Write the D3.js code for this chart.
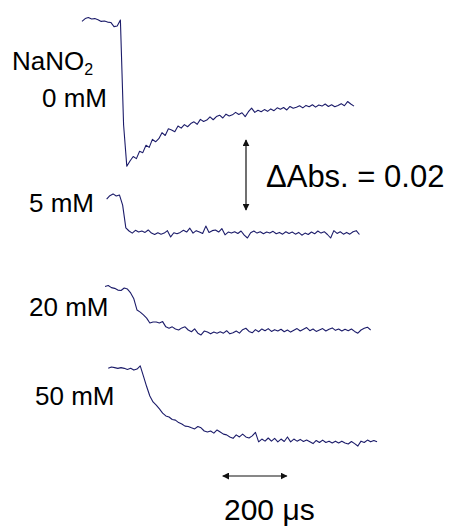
<!DOCTYPE html>
<html>
<head>
<meta charset="utf-8">
<script src="https://cdn.jsdelivr.net/npm/d3@7/dist/d3.min.js"></script>
<style>
  html, body { margin: 0; padding: 0; background: #ffffff; }
  svg text { font-family: "Liberation Sans", Arial, Helvetica, sans-serif; fill: #000; }
</style>
</head>
<body>
<svg id="chart" width="452" height="527"></svg>
<script>
// Transient absorbance traces (ΔAbs in mAbs, sampled every 10 µs)
const concentrations = ["0 mM", "5 mM", "20 mM", "50 mM"];
const sampleStep = 10;               // µs between samples
const traceStart = [0, 77, 72, 82];  // µs, first sample of each trace

const trace0mM = [
  -0.4, 0.4, 0.7, 0.3, 0.4, 0.1, -0.4, -0.3, -0.6, -0.7, -1.9, -1.7, 0.0, -30.0,
  -41.8, -40.3, -39.0, -39.6, -37.5, -37.9, -35.8, -36.4, -34.1, -34.8, -33.9, -32.2,
  -33.0, -31.1, -31.4, -31.9, -30.3, -30.9, -29.9, -30.5, -29.6, -29.1, -29.8, -28.4,
  -29.0, -28.6, -27.7, -28.5, -27.6, -27.2, -28.0, -26.9, -27.4, -27.1, -26.4, -27.0,
  -26.5, -27.6, -26.2, -25.2, -26.4, -25.8, -26.2, -25.6, -26.1, -25.4, -25.9, -25.1,
  -25.5, -25.0, -25.7, -24.7, -25.2, -24.9, -24.5, -25.1, -24.4, -24.8, -24.2, -24.9,
  -24.3, -24.6, -24.0, -24.7, -24.2, -24.8, -24.4, -23.9, -24.5, -23.3, -24.0, -24.6
];
const trace5mM = [
  -0.9, 0.1, 0.6, 0.0, 0.3, -2.6, -9.1, -10.0, -10.6, -9.8, -10.3, -10.0, -10.4, -9.7,
  -10.6, -11.0, -10.5, -10.9, -10.6, -9.9, -11.7, -10.5, -10.8, -10.4, -9.8, -10.3,
  -9.2, -10.6, -9.9, -10.3, -10.7, -8.6, -10.4, -9.9, -9.7, -10.3, -9.3, -11.1, -10.3,
  -10.6, -10.2, -10.7, -10.0, -11.2, -12.0, -10.5, -10.0, -10.6, -10.2, -10.8, -10.3,
  -10.6, -10.1, -10.8, -10.4, -10.9, -10.2, -10.7, -10.3, -10.9, -10.4, -11.2, -10.6,
  -11.0, -10.3, -10.8, -10.0, -10.6, -10.2, -11.0, -12.0, -9.9, -10.7, -10.2, -10.9,
  -10.4, -10.9, -10.2, -9.9, -11.0
];
const trace20mM = [
  0.4, 0.7, 0.1, -0.1, -0.6, -0.7, 0.0, -0.3, -1.4, -3.1, -6.3, -6.9, -7.7, -8.6,
  -10.0, -9.7, -9.7, -10.0, -9.6, -11.1, -11.5, -11.1, -11.7, -12.0, -11.4, -11.1,
  -12.0, -12.5, -11.7, -12.9, -13.4, -12.3, -12.6, -13.1, -12.6, -12.9, -12.5, -12.9,
  -12.2, -13.1, -12.8, -12.3, -12.9, -11.9, -11.5, -12.4, -12.8, -11.9, -12.5, -11.7,
  -12.2, -11.6, -12.4, -11.9, -12.3, -11.8, -12.5, -12.0, -12.6, -12.1, -11.6, -12.3,
  -11.8, -11.3, -12.2, -11.7, -12.4, -12.0, -11.6, -12.3, -11.8, -11.4, -12.1, -11.7,
  -12.3, -11.8, -12.2, -11.7, -12.4, -12.9, -12.0, -11.5, -11.2, -12.0
];
const trace50mM = [
  -0.1, 0.3, 0.1, -0.1, 0.1, -0.1, -0.4, -0.1, -0.6, -0.3, 0.6, -2.3, -5.3, -8.0,
  -9.7, -10.6, -11.7, -12.9, -13.7, -14.0, -14.7, -14.9, -15.6, -16.0, -16.6, -16.7,
  -17.1, -17.4, -16.7, -17.1, -18.0, -18.3, -18.0, -18.6, -17.7, -18.3, -18.9, -19.1,
  -19.7, -20.1, -19.1, -19.7, -18.9, -19.7, -20.0, -19.4, -18.4, -21.1, -20.3, -20.9,
  -20.0, -20.9, -20.1, -21.1, -20.3, -21.0, -19.7, -21.1, -20.3, -20.9, -20.4, -21.0,
  -20.6, -21.1, -21.6, -20.7, -21.3, -20.6, -21.3, -20.9, -21.4, -20.9, -21.4, -20.9,
  -21.4, -21.7, -21.0, -21.6, -22.3, -20.9, -21.3, -20.6, -21.1, -20.7, -21.1
];
const traces = [trace0mM, trace5mM, trace20mM, trace50mM];

// Scale bars
const absBar = 20;          // mAbs  (ΔAbs = 0.02)
const timeBar = [440, 640]; // µs    (200 µs)

const svg = d3.select("#chart");
const lineColor = "#1c1c6a";

// Time axis (µs → px) and absorbance change (mAbs → px offset)
const x = d3.scaleLinear().domain([0, 1000]).range([82, 402]);
const dy = d3.scaleLinear().domain([0, -20]).range([0, 70]);

// Vertical placement of each trace's pre-flash level
const baselines = [20, 196, 288, 368];

traces.forEach((vals, k) => {
  const pts = vals.map((v, i) => ({ t: traceStart[k] + i * sampleStep, v }));
  const line = d3.line().x(d => x(d.t)).y(d => dy(d.v));
  svg.append("g")
    .attr("transform", `translate(0,${baselines[k]})`)
    .append("path")
    .datum(pts)
    .attr("d", line)
    .attr("fill", "none")
    .attr("stroke", lineColor)
    .attr("stroke-width", 1.1)
    .attr("stroke-linejoin", "round");
});

// Labels
const labelFont = 26;
const nano = svg.append("text").attr("x", 12).attr("y", 70).attr("font-size", labelFont);
nano.append("tspan").text("NaNO");
nano.append("tspan").attr("font-size", 16).attr("dy", 5).text("2");

const labelPos = [[42, 107], [29, 212], [29, 316], [35, 405]];
concentrations.forEach((c, k) => {
  svg.append("text")
    .attr("x", labelPos[k][0]).attr("y", labelPos[k][1])
    .attr("font-size", labelFont)
    .text(c);
});

// Arrowhead marker
const defs = svg.append("defs");
defs.append("marker")
  .attr("id", "head")
  .attr("viewBox", "0 0 10 10")
  .attr("refX", 9).attr("refY", 5)
  .attr("markerWidth", 7).attr("markerHeight", 7)
  .attr("markerUnits", "userSpaceOnUse")
  .attr("orient", "auto-start-reverse")
  .append("path")
  .attr("d", "M0,0 L10,5 L0,10 Z")
  .attr("fill", "#111");

// Vertical ΔAbs bar
const barTop = 140;
svg.append("line")
  .attr("x1", 246).attr("x2", 246)
  .attr("y1", barTop).attr("y2", barTop + dy(-absBar))
  .attr("stroke", "#111").attr("stroke-width", 1.2)
  .attr("marker-start", "url(#head)").attr("marker-end", "url(#head)");

svg.append("text")
  .attr("x", 266).attr("y", 187)
  .attr("font-size", 31)
  .text("ΔAbs. = " + (absBar / 1000).toFixed(2));

// Horizontal time bar
svg.append("line")
  .attr("x1", x(timeBar[0])).attr("x2", x(timeBar[1]))
  .attr("y1", 476).attr("y2", 476)
  .attr("stroke", "#111").attr("stroke-width", 1.2)
  .attr("marker-start", "url(#head)").attr("marker-end", "url(#head)");

svg.append("text")
  .attr("x", 224).attr("y", 520)
  .attr("font-size", 30)
  .text((timeBar[1] - timeBar[0]) + " μs");
</script>
</body>
</html>
